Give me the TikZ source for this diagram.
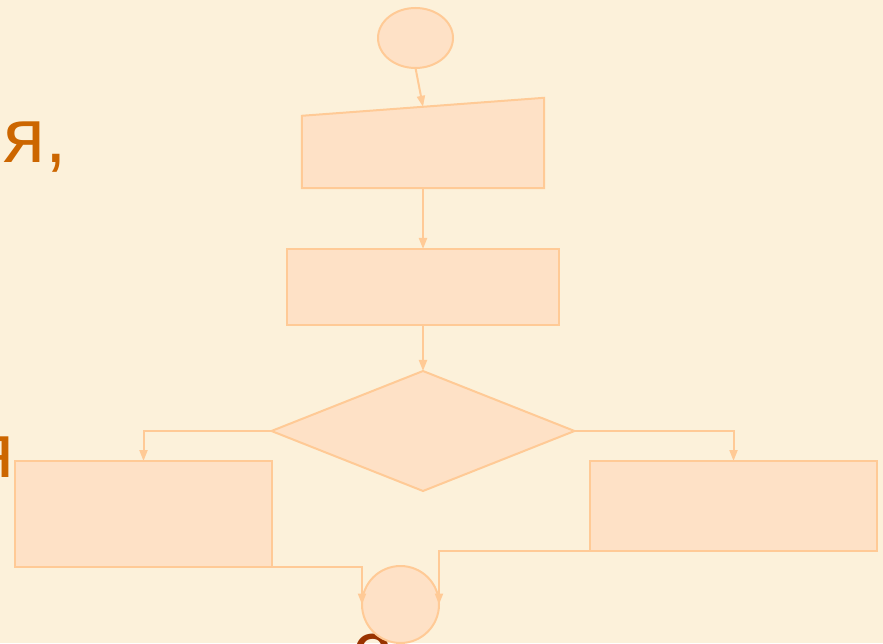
\documentclass[tikz,border=0pt]{standalone}
\usepackage{fontspec}
\setmainfont{Liberation Sans}
\usetikzlibrary{shapes.geometric,arrows.meta,calc}
\definecolor{paper}{HTML}{FCF1DA}
\definecolor{blockfill}{HTML}{FEE1C6}
\definecolor{blockline}{HTML}{FFCA96}
\definecolor{wordorange}{HTML}{CC6600}
\definecolor{wordbrown}{HTML}{993300}
\tikzset{
  x=1pt, y=1pt,
  block/.style={draw=blockline, fill=blockfill, line width=2pt, inner sep=0pt, outer sep=0pt},
  rectblock/.style={block, rectangle},
  flow/.style={draw=blockline, line width=2pt, -{Triangle[length=11pt,width=8pt]}},
  bigword/.style={inner sep=0pt, font=\fontsize{77}{80}\selectfont}
}
\begin{document}
\begin{tikzpicture}
  % page and background
  \useasboundingbox (0,0) rectangle (883,643);
  \fill[paper] (0,0) rectangle (883,643);

  % fragments of slide text behind the chart
  \node[bigword, text=wordorange, anchor=base east] (w1) at (67,480) {ия,};
  \node[bigword, text=wordorange, anchor=base east] (w2) at (14,166) {я};
  \node[bigword, text=wordbrown, anchor=base west] (w3) at (352,-32) {с};

  % flowchart blocks
  \node[block, ellipse, minimum width=75pt, minimum height=60pt] (start) at (415.5,605) {};
  \node[rectangle, inner sep=0pt, minimum width=242pt, minimum height=90pt] (inp) at (423,500) {};
  \draw[block] (inp.south west) -- (inp.south east) -- (inp.north east)
        -- ($(inp.north west)+(0,-18)$) -- cycle;
  \coordinate (inptop) at ($(inp.north)+(0,-9)$);
  \node[rectblock, minimum width=272pt, minimum height=76pt] (proc) at (423,356) {};
  \node[block, diamond, minimum width=303pt, minimum height=120pt] (dec) at (423,212) {};
  \node[rectblock, minimum width=257pt, minimum height=106pt] (left) at (143.5,129) {};
  \node[rectblock, minimum width=287pt, minimum height=90pt] (right) at (733.5,137) {};
  \node[block, circle, minimum size=77pt] (stop) at (400.5,38.5) {};

  % connectors
  \draw[flow] (start.south) -- (inptop);
  \draw[flow] (inp.south) -- (proc.north);
  \draw[flow] (proc.south) -- (dec.north);
  \draw[flow] (dec.west) -| (left.north);
  \draw[flow] (dec.east) -| (right.north);
  \draw[flow] (left.south east) -| (stop.west);
  \draw[flow] (right.south west) -| (stop.east);
\end{tikzpicture}
\end{document}
